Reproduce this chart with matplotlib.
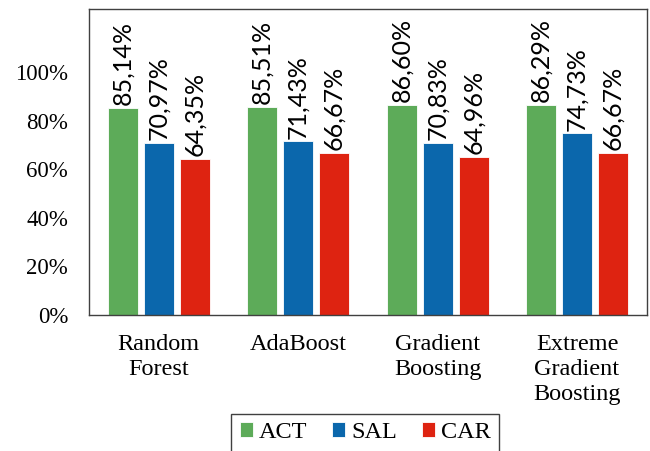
import numpy as np
import matplotlib.pyplot as plt

# classifier accuracy per emotion dimension
models = ["Random\nForest", "AdaBoost", "Gradient\nBoosting", "Extreme\nGradient\nBoosting"]
act = [85.14, 85.51, 86.60, 86.29]
sal = [70.97, 71.43, 70.83, 74.73]
car = [64.35, 66.67, 64.96, 66.67]

series = [("ACT", act, "#5DAB59"), ("SAL", sal, "#0B67AC"), ("CAR", car, "#DE2311")]

fig = plt.figure(figsize=(6.5, 4.51), dpi=100)
ax = fig.add_axes([0.137, 0.302, 0.858, 0.678])

x = np.arange(len(models))
width = 0.215
step = 0.258

for k, (name, vals, color) in enumerate(series):
    pos = x + (k - 1) * step
    bars = ax.bar(pos, np.array(vals) / 100, width, color=color, label=name,
                  edgecolor="white", linewidth=0.6)
    for b, v in zip(bars, vals):
        ax.text(b.get_x() + b.get_width() / 2, b.get_height() + 0.012,
                f"{v:.2f}%".replace(".", ","), rotation=90,
                ha="center", va="bottom", fontsize=18, family="Lato")

ax.set_xlim(-0.5, 3.5)
ax.set_ylim(0, 1.26)
ax.set_yticks(np.arange(0, 1.01, 0.2))
ax.set_yticklabels([f"{int(round(t * 100))}%" for t in np.arange(0, 1.01, 0.2)])
ax.set_xticks(x)
ax.set_xticklabels(models, linespacing=1.25)
ax.tick_params(length=0)
ax.tick_params(axis="y", labelsize=16.5, pad=15)
ax.tick_params(axis="x", labelsize=17.5, pad=14)
for lab in ax.get_xticklabels() + ax.get_yticklabels():
    lab.set_family("Liberation Serif")
for s in ax.spines.values():
    s.set_color("#404040")
    s.set_linewidth(1.0)

leg = fig.legend(loc="upper center", bbox_to_anchor=(0.562, 0.083), ncol=3,
                 fancybox=False, edgecolor="#404040", framealpha=1,
                 prop={"family": "Liberation Serif", "size": 17.5},
                 handlelength=0.55, handleheight=0.55, handletextpad=0.25,
                 columnspacing=1.0, borderpad=0.35, borderaxespad=0)
leg.get_frame().set_linewidth(1.0)

fig.savefig("out.png", dpi=100)
